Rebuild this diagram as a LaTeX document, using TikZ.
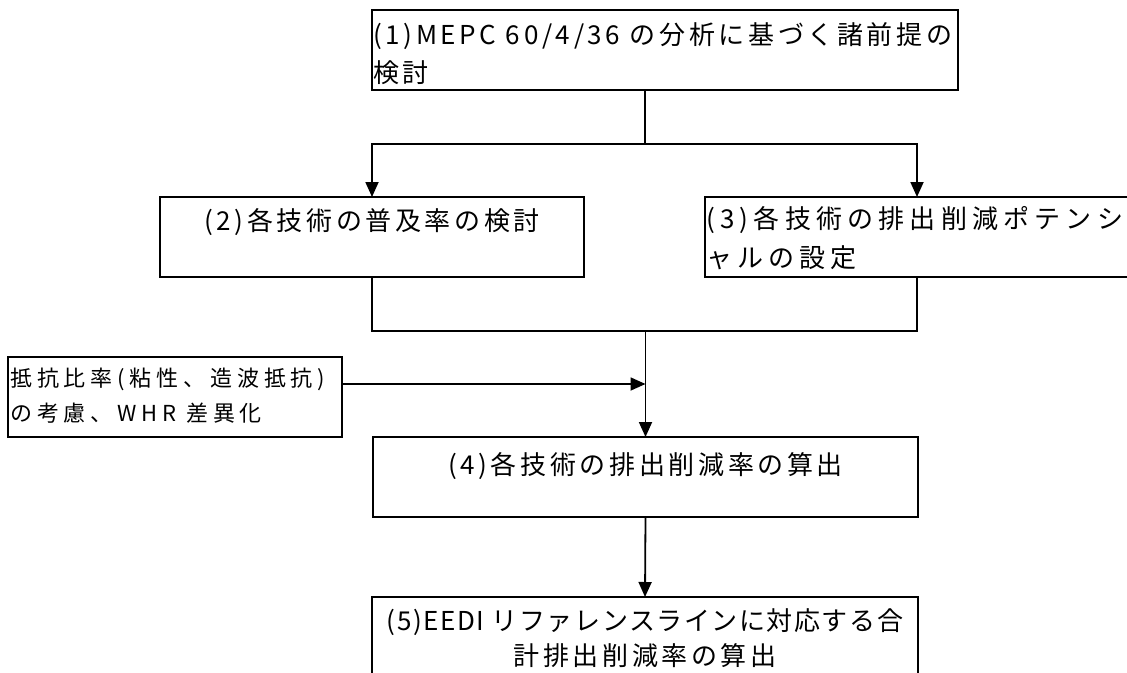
\documentclass[tikz,border=0pt]{standalone}
\usepackage{fontspec}
\newfontfamily\jp[LetterSpace=14]{Noto Sans CJK JP}
\newfontfamily\jpw[LetterSpace=20]{Noto Sans CJK JP}
\newfontfamily\jpn[LetterSpace=6]{Noto Sans CJK JP}
\newfontfamily\jps[LetterSpace=22]{Noto Sans CJK JP}
\usetikzlibrary{arrows.meta}
\tikzset{
  box/.style={draw, line width=1.5pt, inner sep=0pt, outer sep=0pt, anchor=north west},
  conn/.style={line width=1.8pt},
  arr/.style={conn, -{Triangle[length=15pt,width=13pt]}},
  txt/.style={inner sep=0pt, font=\jp\fontsize{26}{30}\selectfont},
  txtw/.style={inner sep=0pt, font=\jpw\fontsize{26}{30}\selectfont},
  txtn/.style={inner sep=0pt, font=\jpn\fontsize{26}{30}\selectfont},
  stxt/.style={inner sep=0pt, font=\jps\fontsize{22}{26}\selectfont},
}
\begin{document}
\begin{tikzpicture}[x=1pt,y=-1pt]
\useasboundingbox (0,0) rectangle (1127,672);
% boxes
\node[box, minimum width=586pt, minimum height=80pt] (b1) at (372,10) {};
\node[box, minimum width=424pt, minimum height=80pt] (b2) at (160,197) {};
\node[box, minimum width=424pt, minimum height=80pt] (b3) at (705,197) {};
\node[box, minimum width=334pt, minimum height=80pt] (sb) at (8,357) {};
\node[box, minimum width=545pt, minimum height=80pt] (b4) at (373,437) {};
\node[box, minimum width=546pt, minimum height=80pt] (b5) at (372,597) {};
% texts
\node[txt, anchor=base west] (t1a) at (373,44) {(1)MEPC 60/4/36 の分析に基づく諸前提の};
\node[txt, anchor=base west] (t1b) at (373,82) {検討};
\node[txt, anchor=base] (t2) at (372,230) {(2)各技術の普及率の検討};
\node[txtw, anchor=base west] (t3a) at (706,228) {(3)各技術の排出削減ポテンシ};
\node[txtw, anchor=base west] (t3b) at (706,267) {ャルの設定};
\node[stxt, anchor=base west] (tsa) at (10,386) {抵抗比率(粘性、造波抵抗)};
\node[stxt, anchor=base west] (tsb) at (10,421) {の考慮、WHR 差異化};
\node[txt, anchor=base] (t4) at (645.5,474) {(4)各技術の排出削減率の算出};
\node[txtn, anchor=base] (t5a) at (645,630) {(5)EEDI リファレンスラインに対応する合};
\node[txt, anchor=base] (t5b) at (645,665) {計排出削減率の算出};
% connectors
\coordinate (s1) at (645,144);
\coordinate (j) at (645.5,331);
\coordinate (m) at (645.5,384);
\draw[conn] (s1 |- b1.south) -- (s1);
\draw[arr] (s1) -| (b2.north);
\draw[arr] (s1) -| (b3.north);
\draw[conn] (b2.south) |- (j) -| (b3.south);
\draw[arr] (j) -- (b4.north);
\draw[arr] (sb.east |- m) -- (m);
\draw[arr] (b4.south) -- (b5.north);
\end{tikzpicture}
\end{document}
